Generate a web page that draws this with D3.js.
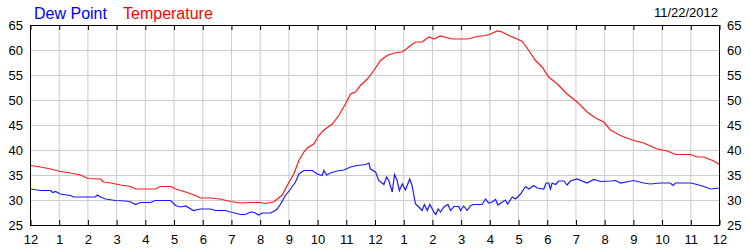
<!DOCTYPE html>
<html>
<head>
<meta charset="utf-8">
<script src="https://cdn.jsdelivr.net/npm/d3@7"></script>
<style>
  html, body { margin: 0; padding: 0; background: #fff; }
  svg { display: block; font-family: "Liberation Sans", Arial, sans-serif; }
</style>
</head>
<body>
<svg id="chart" width="750" height="250"></svg>
<script>
// ---- data ----
const hourLabels = ["12","1","2","3","4","5","6","7","8","9","10","11","12","1","2","3","4","5","6","7","8","9","10","11","12"];
const yTicks = [25, 30, 35, 40, 45, 50, 55, 60, 65];
const dateLabel = "11/22/2012";
const seriesNames = ["Dew Point", "Temperature"];

const tempHours = [0,0.35,0.7,1.04,1.39,1.74,2.0,2.44,2.54,2.8,3.13,3.48,3.66,4.0,4.35,4.52,4.88,5.05,5.4,5.75,5.92,6.27,6.6,6.97,7.31,7.66,8.01,8.19,8.47,8.77,8.94,9.17,9.35,9.52,9.64,9.87,10.04,10.22,10.51,10.74,10.97,11.15,11.32,11.49,11.73,11.96,12.19,12.42,12.66,12.95,13.24,13.41,13.64,13.88,14.05,14.28,14.69,15.21,15.56,15.85,16.02,16.26,16.43,16.66,16.95,17.13,17.36,17.59,17.82,18.05,18.35,18.69,19.04,19.39,19.68,19.97,20.2,20.55,21.01,21.36,21.83,22.18,22.47,22.99,23.22,23.45,23.8,24];
const tempValues = [37.0,36.7,36.3,35.8,35.5,35.1,34.4,34.3,33.7,33.5,33.1,32.8,32.3,32.3,32.3,32.8,32.8,32.3,31.7,31.0,30.5,30.5,30.3,29.8,29.5,29.6,29.6,29.4,29.7,31.1,33.0,35.3,38.0,39.7,40.5,41.3,43.0,44.1,45.3,47.0,49.3,51.3,51.7,53.0,54.3,56.0,58.0,59.0,59.5,59.7,61.0,61.7,61.7,62.7,62.3,62.9,62.3,62.3,62.8,63.0,63.3,63.9,63.7,63.0,62.3,61.8,60.0,58.0,56.7,54.7,53.3,51.3,49.7,47.7,46.5,45.7,44.1,43.0,42.0,41.5,40.3,39.9,39.2,39.2,38.7,38.7,37.9,37.2];

const dewHours = [0,0.35,0.7,0.77,0.87,1.04,1.39,1.5,1.74,2.26,2.33,2.44,2.61,2.96,3.31,3.5,3.66,3.83,4.18,4.35,4.88,5.05,5.22,5.4,5.68,5.92,6.27,6.44,6.79,6.97,7.31,7.49,7.66,7.8,7.94,8.08,8.36,8.53,8.59,8.7,8.88,9.06,9.23,9.35,9.52,9.81,9.99,10.16,10.22,10.31,10.45,10.68,10.91,11.15,11.38,11.67,11.79,11.84,12.02,12.13,12.31,12.4,12.48,12.6,12.68,12.77,12.85,12.95,13.06,13.21,13.29,13.41,13.53,13.64,13.72,13.82,13.91,14.05,14.12,14.2,14.28,14.4,14.54,14.63,14.75,14.92,14.98,15.09,15.21,15.33,15.44,15.73,15.85,15.96,16.08,16.2,16.28,16.54,16.62,16.78,16.9,17.07,17.24,17.36,17.53,17.65,17.88,17.96,18.05,18.11,18.17,18.29,18.4,18.58,18.69,18.81,19.04,19.39,19.62,19.85,20.2,20.38,20.55,21.01,21.36,21.59,21.94,22.29,22.38,22.47,22.99,23.22,23.51,23.68,24];
const dewValues = [32.3,32.0,32.0,31.6,31.8,31.3,31.0,30.7,30.7,30.7,31.1,30.7,30.3,30.0,29.9,29.7,29.2,29.6,29.6,30.0,30.0,29.0,28.7,28.9,28.0,28.3,28.3,28.0,28.0,27.7,27.2,27.2,27.7,27.6,27.1,27.5,27.5,28.0,28.3,29.2,31.0,32.3,33.7,35.3,36.0,36.0,35.3,35.0,36.0,35.1,35.5,35.9,36.1,36.7,37.0,37.2,37.5,36.3,35.7,34.0,33.2,34.7,34.0,31.7,35.2,34.0,32.0,33.3,32.1,34.3,33.0,29.3,28.7,28.0,29.2,28.0,29.2,27.7,27.2,28.3,27.7,28.7,29.2,28.0,28.8,28.8,28.0,28.9,28.0,29.0,29.2,29.2,30.3,29.5,29.7,30.2,29.1,30.1,29.3,30.7,30.3,31.3,32.8,32.3,33.0,32.5,32.3,33.5,33.5,32.3,33.5,33.2,33.9,33.9,33.1,33.9,34.3,33.5,34.2,33.8,33.9,34.0,33.5,34.0,33.5,33.3,33.5,33.5,33.0,33.5,33.5,33.2,32.7,32.3,32.5];

// ---- chart ----
const svg = d3.select("#chart");
const L = 30, R = 719, T = 25, B = 225;
const x = d3.scaleLinear().domain([0, 24]).range([L + 0.5, R + 0.5]);
const y = d3.scaleLinear().domain([25, 65]).range([B + 0.5, T + 0.5]);

// gridlines
const grid = svg.append("g").attr("stroke", "#cccccc").attr("stroke-width", 1);
grid.selectAll("line.v").data(d3.range(1, 24)).join("line")
  .attr("x1", d => x(d)).attr("x2", d => x(d)).attr("y1", T).attr("y2", B);
grid.selectAll("line.h").data(yTicks.slice(1, -1)).join("line")
  .attr("x1", L).attr("x2", R).attr("y1", d => y(d)).attr("y2", d => y(d));

// series
const pair = (hs, vs) => hs.map((h, i) => [h, vs[i]]);
const line = d3.line().x(d => x(d[0])).y(d => y(d[1]));
svg.append("path").datum(pair(dewHours, dewValues))
  .attr("fill", "none").attr("stroke", "#1a1aff").attr("stroke-width", 1.2).attr("d", line);
svg.append("path").datum(pair(tempHours, tempValues))
  .attr("fill", "none").attr("stroke", "#ff1a1a").attr("stroke-width", 1.2).attr("d", line);

// frame
svg.append("rect").attr("x", L + 0.5).attr("y", T + 0.5).attr("width", R - L).attr("height", B - T)
  .attr("fill", "none").attr("stroke", "#000").attr("stroke-width", 1);

// axes
const fmt = (d, i) => hourLabels[d];
const xBottom = d3.axisBottom(x).tickValues(d3.range(0, 25)).tickSize(-5).tickPadding(10).tickFormat(d => hourLabels[d]);
const gB = svg.append("g").attr("transform", `translate(0,${B})`).call(xBottom);
const xTop = d3.axisTop(x).tickValues(d3.range(0, 25)).tickSize(-5).tickFormat("");
const gT = svg.append("g").attr("transform", `translate(0,${T})`).call(xTop);
const yLeft = d3.axisLeft(y).tickValues(yTicks).tickSize(0).tickPadding(7);
const gL = svg.append("g").attr("transform", `translate(${L},0)`).call(yLeft);
const yRight = d3.axisRight(y).tickValues(yTicks).tickSize(0).tickPadding(8);
const gR = svg.append("g").attr("transform", `translate(${R},0)`).call(yRight);
[gB, gT, gL, gR].forEach(g => {
  g.select(".domain").remove();
  g.selectAll("text").attr("font-size", 13).attr("fill", "#000").attr("font-family", "'Liberation Sans', Arial, sans-serif");
  g.selectAll("line").attr("stroke", "#000");
});

// legend
svg.append("text").attr("x", 34).attr("y", 19).attr("font-size", 16).attr("fill", "#0000ff").text(seriesNames[0]);
svg.append("text").attr("x", 123).attr("y", 19).attr("font-size", 16).attr("fill", "#ff0000").text(seriesNames[1]);
svg.append("text").attr("x", 718).attr("y", 17).attr("font-size", 13).attr("text-anchor", "end").attr("fill", "#000").text(dateLabel);
</script>
</body>
</html>
